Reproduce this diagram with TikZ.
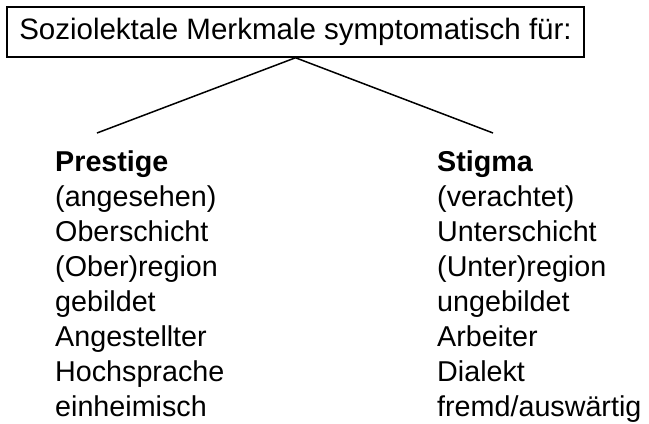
\documentclass[tikz,border=0pt]{standalone}
\usepackage{fontspec}
\setmainfont{Liberation Sans}
\begin{document}
\begin{tikzpicture}[x=1bp,y=-1bp,
  headbox/.style={draw, line width=1.5bp, minimum width=577bp, minimum height=50bp, inner sep=0pt,
    font=\fontsize{29.5bp}{35bp}\selectfont},
  item/.style={anchor=base west, inner sep=0pt, font=\fontsize{28.7bp}{35bp}\selectfont},
  title/.style={item, font=\fontsize{28.7bp}{35bp}\selectfont\bfseries},
  link/.style={line width=1.5bp}]
\useasboundingbox (0,0) rectangle (649,423);
\node[headbox] (head) at (295.5,32) {Soziolektale Merkmale symptomatisch für:};
\coordinate (lend) at (97,133);
\coordinate (rend) at (493,133);
\draw[link] (head.south) -- (lend);
\draw[link] (head.south) -- (rend);
% left column
\node[title] (l0) at (55,171) {Prestige};
\node[item] (l1) at (55,206) {(angesehen)};
\node[item] (l2) at (55,241) {Oberschicht};
\node[item] (l3) at (55,276) {(Ober)region};
\node[item] (l4) at (55,311) {gebildet};
\node[item] (l5) at (55,346) {Angestellter};
\node[item] (l6) at (55,381) {Hochsprache};
\node[item] (l7) at (55,416) {einheimisch};
% right column
\node[title] (r0) at (437,171) {Stigma};
\node[item] (r1) at (437,206) {(verachtet)};
\node[item] (r2) at (437,241) {Unterschicht};
\node[item] (r3) at (437,276) {(Unter)region};
\node[item] (r4) at (437,311) {ungebildet};
\node[item] (r5) at (437,346) {Arbeiter};
\node[item] (r6) at (437,381) {Dialekt};
\node[item] (r7) at (437,416) {fremd/auswärtig};
\end{tikzpicture}
\end{document}
